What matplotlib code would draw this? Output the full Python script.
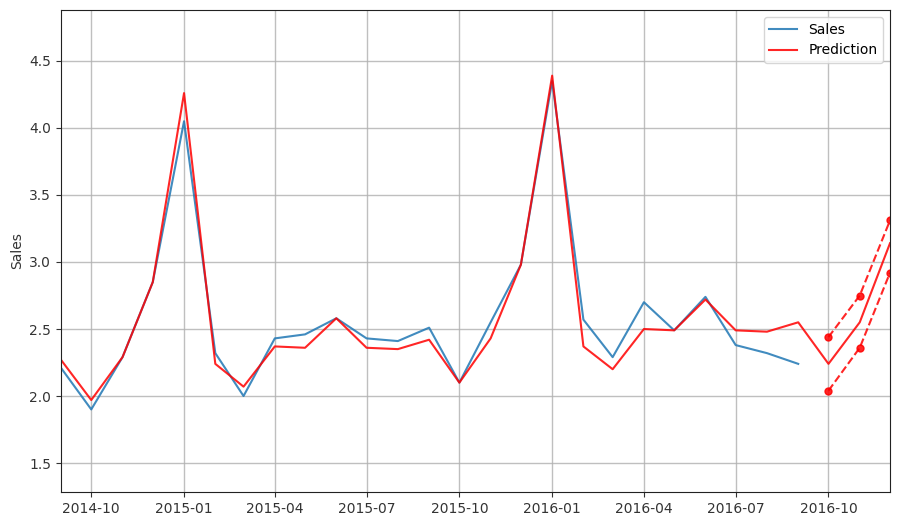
import numpy as np
import pandas as pd
import matplotlib
matplotlib.use('Agg')
import matplotlib.pyplot as plt

# monthly data
sales_dates = pd.date_range('2014-09-01', '2016-09-01', freq='MS')
sales = [2.21, 1.90, 2.29, 2.85, 4.05, 2.32, 2.00, 2.43, 2.46, 2.58, 2.43, 2.41, 2.51,
         2.10, 2.55, 2.98, 4.35, 2.57, 2.29, 2.70, 2.49, 2.74, 2.38, 2.32, 2.24]

pred_dates = pd.date_range('2014-09-01', '2016-12-01', freq='MS')
prediction = [2.27, 1.97, 2.29, 2.85, 4.26, 2.24, 2.07, 2.37, 2.36, 2.58, 2.36, 2.35, 2.42,
              2.10, 2.43, 2.98, 4.39, 2.37, 2.20, 2.50, 2.49, 2.72, 2.49, 2.48, 2.55,
              2.24, 2.55, 3.14]

ci_dates = pd.date_range('2016-10-01', '2016-12-01', freq='MS')
ci_upper = [2.44, 2.75, 3.31]
ci_lower = [2.04, 2.36, 2.92]

fig = plt.figure(figsize=(8.98, 5.26), dpi=100)
ax = fig.add_axes([61 / 898, 1 - 492 / 526, 829 / 898, 482 / 526])

ax.plot(sales_dates, sales, color='#1f77b4', alpha=0.85, lw=1.5, label='Sales')
ax.plot(pred_dates, prediction, color='red', alpha=0.85, lw=1.5, label='Prediction')
ax.plot(ci_dates, ci_upper, 'r--o', alpha=0.85, lw=1.5, ms=5)
ax.plot(ci_dates, ci_lower, 'r--o', alpha=0.85, lw=1.5, ms=5)

ax.set_xlim(pd.Timestamp('2014-09-01'), pd.Timestamp('2016-12-01'))
ax.set_ylim(1.284, 4.88)
ax.set_yticks([1.5, 2.0, 2.5, 3.0, 3.5, 4.0, 4.5])
ax.set_xticks(pd.date_range('2014-10-01', '2016-10-01', freq='3MS'))
ax.set_xticklabels([d.strftime('%Y-%m') for d in pd.date_range('2014-10-01', '2016-10-01', freq='3MS')])
ax.tick_params(colors='#333333', labelsize=10)
for s in ax.spines.values():
    s.set_color('#222222')
ax.grid(True, color='#b0b0b0', lw=1, alpha=0.8)
ax.set_ylabel('Sales', color='#333333')
ax.legend(loc='upper right')

fig.savefig('out.png', dpi=100)
